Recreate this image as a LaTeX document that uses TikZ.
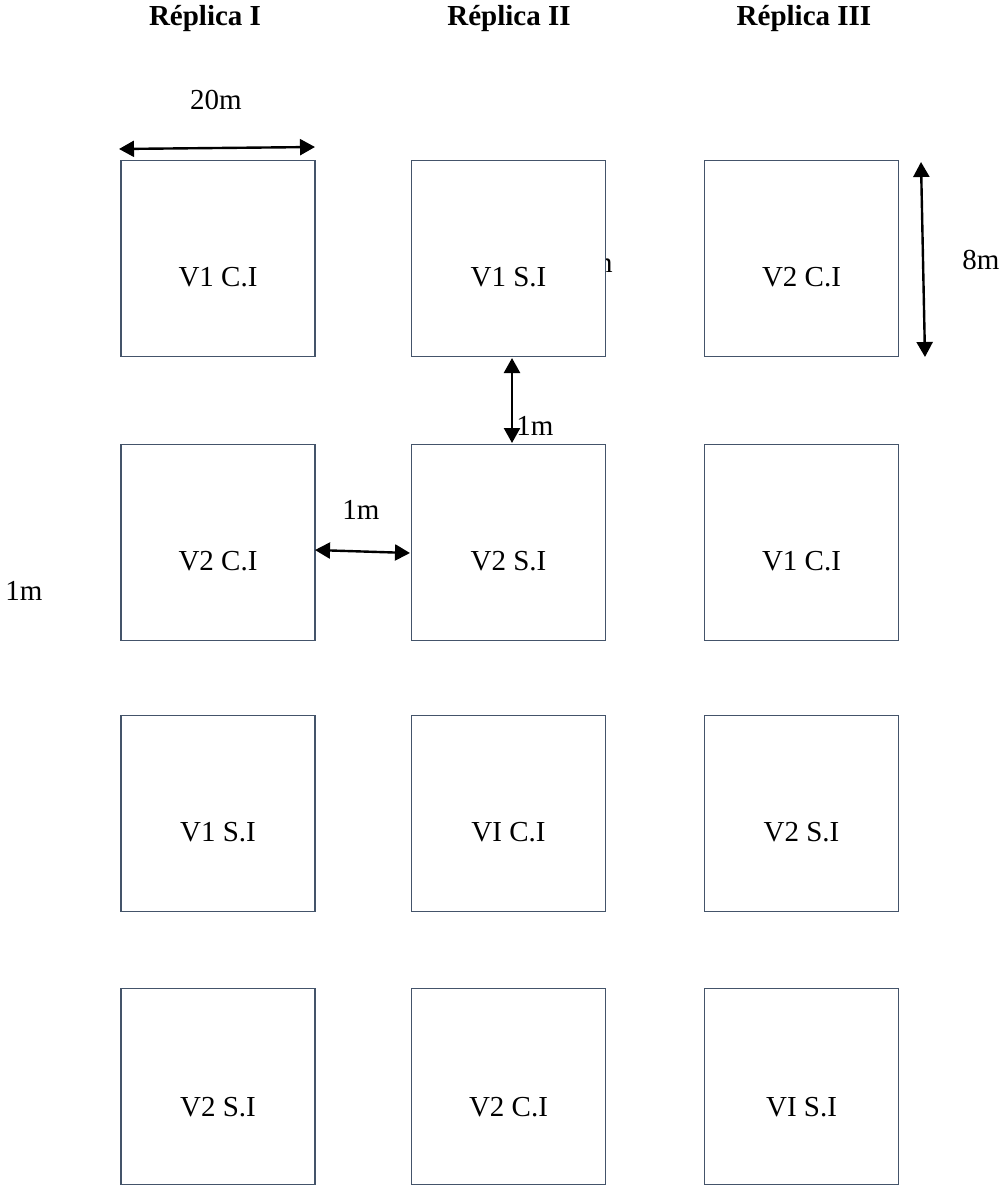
\documentclass[tikz,border=0pt]{standalone}
\usepackage{fontspec}
\setmainfont{Liberation Serif}
\usepackage{tikz}
\usetikzlibrary{arrows.meta, positioning, calc}
\definecolor{plotline}{HTML}{44546A}
\tikzset{
  pplot/.style={draw=plotline, line width=0.75pt, fill=white, minimum width=97pt, minimum height=98pt, inner sep=0pt},
  plbl/.style={font=\fontsize{14.5}{17}\selectfont, inner sep=0pt},
  phead/.style={font=\fontsize{14.5}{17}\selectfont\bfseries, inner sep=0pt},
  pdim/.style={{Triangle[length=7.5pt,width=8pt]}-{Triangle[length=7.5pt,width=8pt]}, line width=1.2pt, black},
}

\begin{document}
\begin{tikzpicture}[x=0.5pt, y=-0.5pt]
    \useasboundingbox (0,0) rectangle (1007,1189);
    \node[phead] (h1) at (205,19) {Réplica I};
    \node[phead] (h2) at (509,19) {Réplica II};
    \node[phead] (h3) at (804,19) {Réplica III};
    \node[plbl, anchor=base east] (hid) at (613,272) {1m};
    \foreach \r/\y in {1/258.5, 2/542.5, 3/813.5, 4/1086.5}
      \foreach \c/\x in {1/218, 2/508.5, 3/801.5}
        \node[pplot] (p\r\c) at (\x,\y) {};
    \foreach \r/\c/\t/\dy in {1/1/V1 C.I/19, 1/2/V1 S.I/19, 1/3/V2 C.I/19,
                              2/1/V2 C.I/19, 2/2/V2 S.I/19, 2/3/V1 C.I/19,
                              3/1/V1 S.I/19, 3/2/VI C.I/19, 3/3/V2 S.I/19,
                              4/1/V2 S.I/21, 4/2/V2 C.I/21, 4/3/VI S.I/21}
      \node[plbl] (t\r\c) at ($(p\r\c)+(0,\dy)$) {\t};
    \coordinate (wa) at (119,149);
    \coordinate (wb) at (315,147);
    \coordinate (ha) at (921,162);
    \coordinate (hb) at (925,357);
    \coordinate (va) at (512,358);
    \coordinate (vb) at (512,443);
    \coordinate (sa) at (315,550);
    \coordinate (sb) at (410,553);
    \draw[pdim] (wa) -- (wb);
    \draw[pdim] (ha) -- (hb);
    \draw[pdim] (va) -- (vb);
    \draw[pdim] (sa) -- (sb);
    \node[plbl] (lw) at (216,100) {20m};
    \node[plbl] (lh) at (981,260) {8m};
    \node[plbl] (lv) at (535,426) {1m};
    \node[plbl] (ls) at (361,510) {1m};
    \node[plbl] (ll) at (24,591) {1m};
  \end{tikzpicture}
\end{document}
